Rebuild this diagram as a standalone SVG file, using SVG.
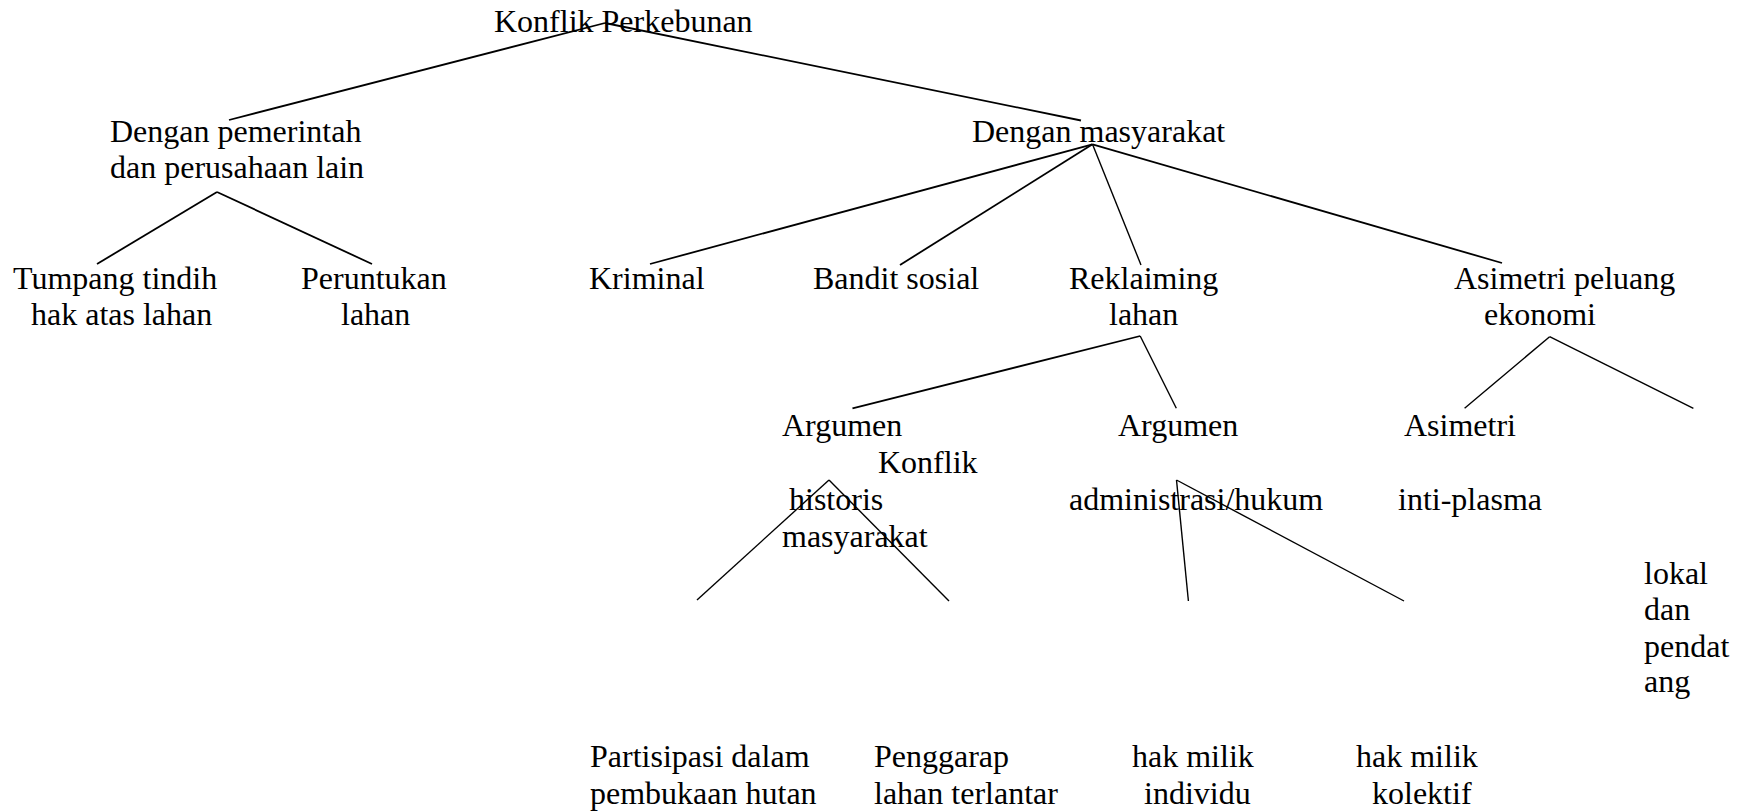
<svg xmlns="http://www.w3.org/2000/svg" width="1749" height="812" viewBox="0 0 1749 812">
<style>
text{font-family:"Liberation Serif","Times New Roman",serif;font-size:32px;fill:#000}
.c line{stroke:#000;stroke-width:1.8;fill:none}
.c .t{stroke-width:1.4}
</style>
<rect width="1749" height="812" fill="#fff"/>
<g id="connectors" class="c">
<line x1="605" y1="23" x2="229" y2="120"/>
<line x1="605" y1="23" x2="1081" y2="120.5"/>
<line x1="217" y1="192" x2="97" y2="264"/>
<line x1="217" y1="192" x2="372" y2="264"/>
<line x1="1092.5" y1="144.3" x2="650" y2="264"/>
<line x1="1092.5" y1="144.3" x2="900" y2="265"/>
<line class="t" x1="1092.5" y1="144.3" x2="1141" y2="265"/>
<line x1="1092.5" y1="144.3" x2="1502" y2="263"/>
<line x1="1140.2" y1="336" x2="852.5" y2="408.3"/>
<line class="t" x1="1140.2" y1="336" x2="1176.3" y2="408.3"/>
<line class="t" x1="1549.6" y1="336.7" x2="1464.6" y2="408.3"/>
<line class="t" x1="1549.6" y1="336.7" x2="1693.4" y2="408.3"/>
<line class="t" x1="829" y1="480" x2="697" y2="600"/>
<line class="t" x1="829" y1="480" x2="949" y2="601"/>
<line class="t" x1="1176.5" y1="480" x2="1188.4" y2="601"/>
<line class="t" x1="1176.5" y1="480" x2="1404" y2="601"/>
</g>
<g id="n-root"><text x="494" y="31.5">Konflik Perkebunan</text></g>
<g id="n-pemerintah"><text x="110" y="141.5">Dengan pemerintah</text><text x="110" y="177.5">dan perusahaan lain</text></g>
<g id="n-masyarakat"><text x="972" y="141.5">Dengan masyarakat</text></g>
<g id="n-tumpang"><text x="13" y="289">Tumpang tindih</text><text x="31" y="325">hak atas lahan</text></g>
<g id="n-peruntukan"><text x="301" y="289">Peruntukan</text><text x="341" y="325">lahan</text></g>
<g id="n-kriminal"><text x="589" y="289">Kriminal</text></g>
<g id="n-bandit"><text x="813" y="289">Bandit sosial</text></g>
<g id="n-reklaiming"><text x="1069" y="289">Reklaiming</text><text x="1109" y="325">lahan</text></g>
<g id="n-asimetri-peluang"><text x="1454" y="289">Asimetri peluang</text><text x="1484" y="325">ekonomi</text></g>
<g id="n-argumen-historis"><text x="782" y="435.5">Argumen</text><text x="789" y="509.5">historis</text></g>
<g id="n-konflik-masyarakat"><text x="878" y="472.5">Konflik</text><text x="782" y="546.5">masyarakat</text></g>
<g id="n-argumen-admin"><text x="1118" y="435.5">Argumen</text><text x="1069" y="509.5">administrasi/hukum</text></g>
<g id="n-asimetri-inti"><text x="1404" y="435.5">Asimetri</text><text x="1398" y="509.5">inti-plasma</text></g>
<g id="n-lokal"><text x="1644" y="584">lokal</text><text x="1644" y="620">dan</text><text x="1644" y="656.5">pendat</text><text x="1644" y="692">ang</text></g>
<g id="n-partisipasi"><text x="590" y="767">Partisipasi dalam</text><text x="590" y="804">pembukaan hutan</text></g>
<g id="n-penggarap"><text x="874" y="767">Penggarap</text><text x="874" y="804">lahan terlantar</text></g>
<g id="n-individu"><text x="1132" y="767">hak milik</text><text x="1144" y="804">individu</text></g>
<g id="n-kolektif"><text x="1356" y="767">hak milik</text><text x="1372" y="804">kolektif</text></g>
</svg>
